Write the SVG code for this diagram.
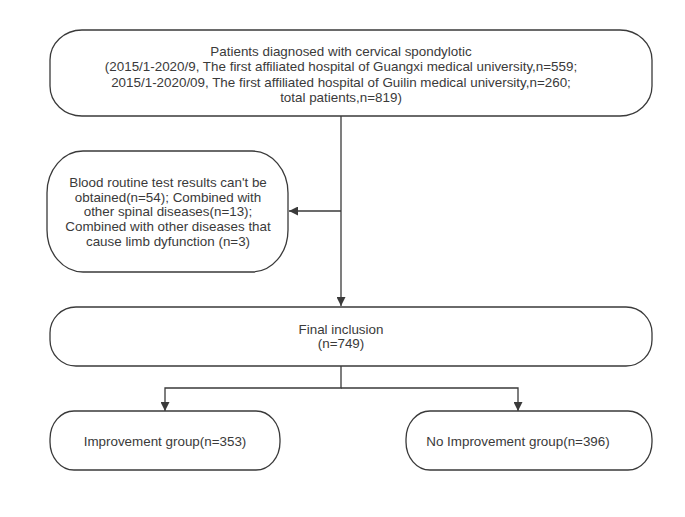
<svg xmlns="http://www.w3.org/2000/svg" width="685" height="517" viewBox="0 0 685 517">
<style>
.box{fill:#fff;stroke:#3a3a3a;stroke-width:1.3}
.t{font-family:"Liberation Sans",Arial,sans-serif;font-size:13.4px;fill:#3a3a3a;text-anchor:middle}
.c{fill:none;stroke:#3a3a3a;stroke-width:1.3}
</style>
<defs>
<marker id="ah" viewBox="0 0 10 10" refX="10" refY="5" markerWidth="10" markerHeight="9" markerUnits="userSpaceOnUse" orient="auto">
<path d="M0,0 L10,5 L0,10 Z" fill="#3a3a3a"/>
</marker>
</defs>
<rect width="685" height="517" fill="#fff"/>
<g id="connectors">
<path class="c" d="M341,116 V306" marker-end="url(#ah)"/>
<path class="c" d="M341,211 H289" marker-end="url(#ah)"/>
<path class="c" d="M341,366 V388 H165 V411" marker-end="url(#ah)"/>
<path class="c" d="M341,388 H518 V411" marker-end="url(#ah)"/>
</g>
<g id="n1">
<rect class="box" x="50" y="30" width="602" height="86" rx="32" ry="30"/>
<text class="t" x="341" y="56">Patients diagnosed with cervical spondylotic</text>
<text class="t" x="341" y="71.3">(2015/1-2020/9, The first affiliated hospital of Guangxi medical university,n=559;</text>
<text class="t" x="341" y="86.6">2015/1-2020/09, The first affiliated hospital of Guilin medical university,n=260;</text>
<text class="t" x="341" y="102">total patients,n=819)</text>
</g>
<g id="n2">
<rect class="box" x="47" y="151" width="241" height="121" rx="36" ry="42"/>
<text class="t" x="168" y="187">Blood routine test results can't be</text>
<text class="t" x="168" y="201.7">obtained(n=54); Combined with</text>
<text class="t" x="168" y="216.4">other spinal diseases(n=13);</text>
<text class="t" x="168" y="231.1">Combined with other diseases that</text>
<text class="t" x="168" y="245.8">cause limb dyfunction (n=3)</text>
</g>
<g id="n3">
<rect class="box" x="50" y="307" width="602" height="59" rx="26" ry="26"/>
<text class="t" x="341" y="333.5">Final inclusion</text>
<text class="t" x="341" y="348">(n=749)</text>
</g>
<g id="n4">
<rect class="box" x="50" y="411" width="230" height="59" rx="24" ry="28"/>
<text class="t" x="165" y="446">Improvement group(n=353)</text>
</g>
<g id="n5">
<rect class="box" x="406" y="411" width="246" height="59" rx="24" ry="28"/>
<text class="t" x="518" y="446">No Improvement group(n=396)</text>
</g>
</svg>
